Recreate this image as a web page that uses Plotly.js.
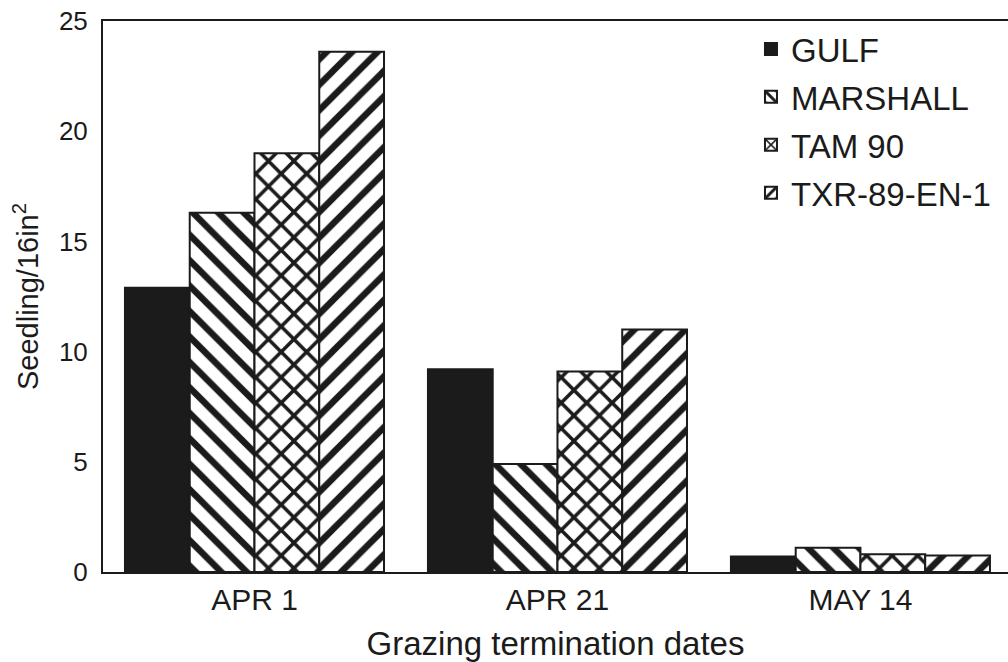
<!DOCTYPE html>
<html>
<head>
<meta charset="utf-8">
<script src="https://cdn.plot.ly/plotly-3.0.1.min.js"></script>
<style>html,body{margin:0;padding:0;background:#fff;}#chart{width:1008px;height:662px;}</style>
</head>
<body>
<div id="chart"></div>
<script>
const categories = ["APR 1", "APR 21", "MAY 14"];
const gulf = [12.9, 9.2, 0.7];
const marshall = [16.3, 4.9, 1.1];
const tam90 = [19.0, 9.1, 0.8];
const txr = [23.6, 11.0, 0.75];
const seriesNames = ["GULF", "MARSHALL", "TAM 90", "TXR-89-EN-1"];
const yTicks = [0, 5, 10, 15, 20, 25];

const ink = "#1b1b1b";
const font = "Liberation Sans, Arial, sans-serif";

function mk(name, vals, shape, size, group) {
  const marker = {
    color: shape ? "#ffffff" : ink,
    line: {color: ink, width: 2}
  };
  if (shape) {
    marker.pattern = {shape: shape, fgcolor: ink, bgcolor: "#ffffff", fgopacity: 1, size: size, solidity: 0.36, fillmode: "overlay"};
  }
  return {type: "bar", name: name, x: categories, y: vals, legendgroup: group, marker: marker};
}

const data = [
  mk(seriesNames[0], gulf, "", 0, "a"),
  mk(seriesNames[1], marshall, "\\", 18, "b"),
  mk(seriesNames[2], tam90, "x", 18, "c"),
  mk(seriesNames[3], txr, "/", 18, "d")
];

const layout = {
  width: 1008,
  height: 662,
  margin: {l: 103, r: 0, t: 21, b: 90},
  paper_bgcolor: "#ffffff",
  plot_bgcolor: "#ffffff",
  font: {family: font, color: ink, size: 26},
  barmode: "group",
  bargap: 0.145,
  bargroupgap: 0,
  showlegend: true,
  legend: {
    x: 0.716, y: 1.0, xanchor: "left", yanchor: "top",
    bgcolor: "rgba(0,0,0,0)",
    font: {family: font, size: 33, color: ink},
    traceorder: "grouped",
    tracegroupgap: 2,
    itemwidth: 30
  },
  xaxis: {
    range: [-0.5, 2.487],
    showline: true, linecolor: ink, linewidth: 2, mirror: true,
    showgrid: false, zeroline: false, ticks: "",
    ticklabelstandoff: 0,
    tickfont: {family: font, size: 30, color: ink},
    title: {text: "Grazing termination dates", font: {family: font, size: 33, color: ink}, standoff: 18}
  },
  yaxis: {
    range: [0, 25],
    tickvals: yTicks,
    ticktext: yTicks.map(String),
    showline: true, linecolor: ink, linewidth: 2, mirror: false,
    showgrid: false, zeroline: false, ticks: "",
    ticklabelstandoff: 8,
    tickfont: {family: font, size: 26, color: ink},
    title: {text: "Seedling/16in<sup>2</sup>", font: {family: font, size: 29, color: ink}, standoff: 12}
  }
};

Plotly.newPlot("chart", data, layout, {displayModeBar: false, staticPlot: true});
</script>
</body>
</html>
